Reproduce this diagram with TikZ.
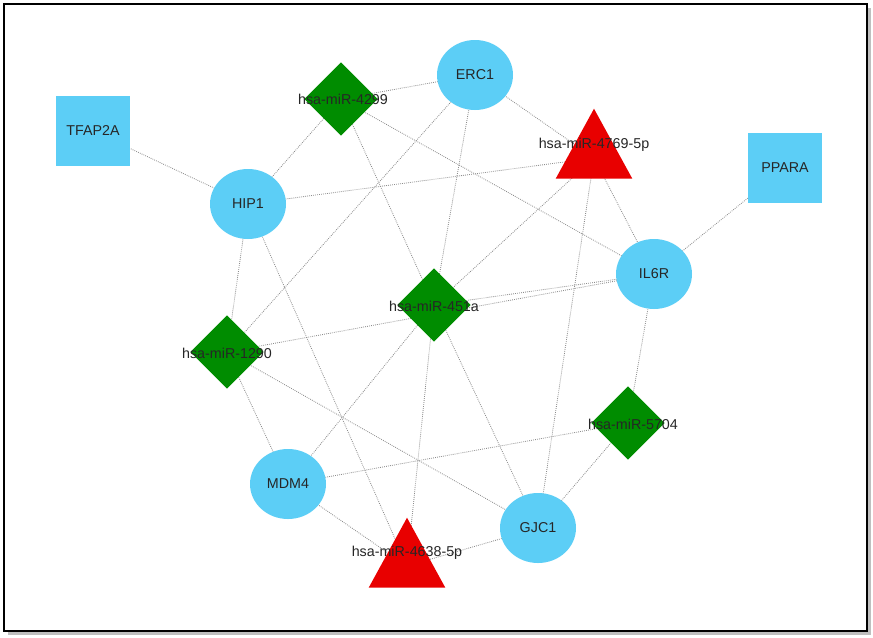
\documentclass[tikz,border=0pt]{standalone}
\usepackage{fontspec}
\setmainfont{Liberation Sans}
\usetikzlibrary{shapes.geometric}
\begin{document}
\begin{tikzpicture}[x=0.03cm,y=-0.03cm,
  edge/.style={draw=gray!90,densely dotted,line width=0.7pt},
  gene/.style={ellipse,fill=gcol,minimum width=2.28cm,minimum height=2.1cm,inner sep=0pt},
  box/.style={rectangle,fill=gcol,minimum width=2.2cm,minimum height=2.1cm,inner sep=0pt},
  mir/.style={diamond,fill=mcol,minimum width=2.2cm,minimum height=2.2cm,inner sep=0pt,aspect=1},
  tri/.style={isosceles triangle,isosceles triangle apex angle=60,shape border rotate=90,fill=rcol,minimum height=2.1cm,inner sep=0pt,isosceles triangle stretches=true,minimum width=2.3cm},
  lab/.style={font=\fontsize{12.2}{14}\selectfont,text=black!85,inner sep=0pt}]
\definecolor{gcol}{RGB}{92,206,246}
\definecolor{mcol}{RGB}{0,140,0}
\definecolor{rcol}{RGB}{232,0,0}
\useasboundingbox (0,0) rectangle (873,637);
\fill[gray!50] (8,8) rectangle (871,635);
\draw[line width=2.2pt,fill=white] (4,4) rectangle (867,631);
% positions
\coordinate (ERC1) at (475,75);
\coordinate (m4299) at (341,99);
\coordinate (TFAP2A) at (93,131);
\coordinate (m4769) at (594,158);
\coordinate (PPARA) at (785,168);
\coordinate (HIP1) at (248,204);
\coordinate (IL6R) at (654,274);
\coordinate (m451a) at (434,305);
\coordinate (m1290) at (227,352);
\coordinate (m5704) at (628,423);
\coordinate (MDM4) at (288,484);
\coordinate (GJC1) at (538,528);
\coordinate (m4638) at (407,566);
% edges
\foreach \a/\b in {TFAP2A/HIP1,PPARA/IL6R,m4299/ERC1,m4299/HIP1,m4299/IL6R,m4299/m451a,
  ERC1/m4769,ERC1/m1290,ERC1/m451a,HIP1/m4769,HIP1/m1290,HIP1/m4638,
  m4769/IL6R,m4769/m451a,m4769/GJC1,IL6R/m451a,IL6R/m1290,IL6R/m5704,
  m451a/MDM4,m451a/GJC1,m451a/m4638,m1290/MDM4,m1290/GJC1,
  m5704/MDM4,m5704/GJC1,MDM4/m4638,GJC1/m4638}
  \draw[edge] (\a) -- (\b);
% shapes
\node[gene] (nERC1) at (ERC1) {};
\node[gene] (nHIP1) at (HIP1) {};
\node[gene] (nIL6R) at (IL6R) {};
\node[gene] (nMDM4) at (MDM4) {};
\node[gene] (nGJC1) at (GJC1) {};
\node[box] (nTFAP2A) at (TFAP2A) {};
\node[box] (nPPARA) at (PPARA) {};
\node[mir] (n4299) at (m4299) {};
\node[mir] (n451a) at (m451a) {};
\node[mir] (n1290) at (m1290) {};
\node[mir] (n5704) at (m5704) {};
\node[tri] (n4769) at (594,156) {};
\node[tri] (n4638) at (407,565) {};
% labels
\node[lab] (tERC1) at (475,75) {ERC1};
\node[lab] (tHIP1) at (248,204) {HIP1};
\node[lab] (tIL6R) at (654,274) {IL6R};
\node[lab] (tMDM4) at (288,484) {MDM4};
\node[lab] (tGJC1) at (538,528) {GJC1};
\node[lab] (tTFAP2A) at (93,131) {TFAP2A};
\node[lab] (tPPARA) at (785,168) {PPARA};
\node[lab] (t4299) at (343,99) {hsa-miR-4299};
\node[lab] (t451a) at (434,306) {hsa-miR-451a};
\node[lab] (t1290) at (227,353) {hsa-miR-1290};
\node[lab] (t5704) at (633,424) {hsa-miR-5704};
\node[lab] (t4769) at (594,145) {hsa-miR-4769-5p};
\node[lab] (t4638) at (407,553) {hsa-miR-4638-5p};
\end{tikzpicture}
\end{document}
